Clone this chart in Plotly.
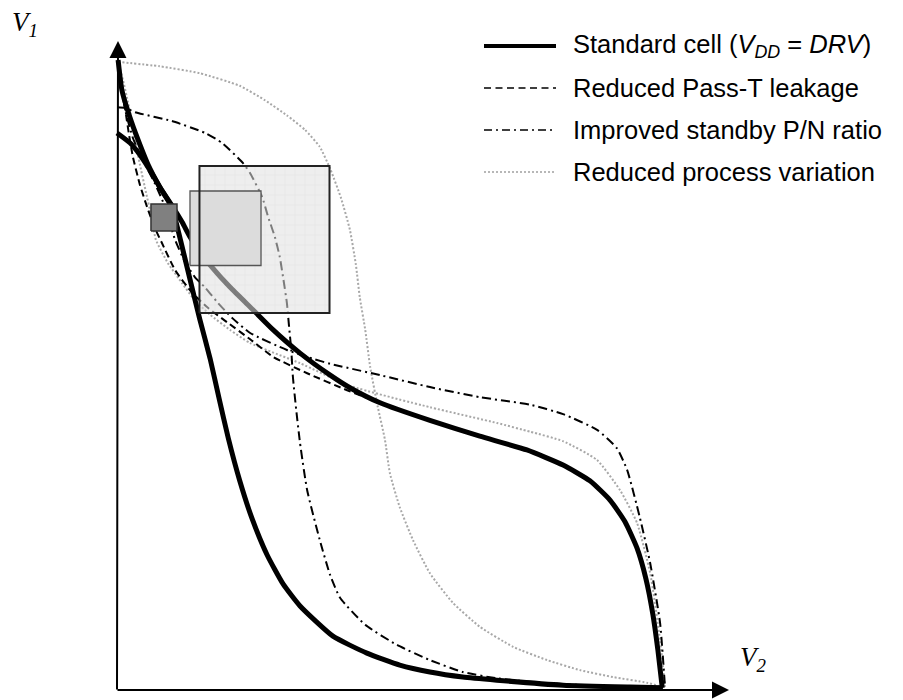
import plotly.graph_objects as go

# ---------------- data (normalised V2, V1) ----------------
std_a_v2 = [0.002, 0.009, 0.027, 0.042, 0.057, 0.078, 0.100, 0.115, 0.133, 0.151, 0.170, 0.186, 0.203,
            0.224, 0.246, 0.274, 0.303, 0.334, 0.394, 0.456, 0.516, 0.571, 0.631, 0.693, 0.814,
            0.936, 0.996]
std_a_v1 = [1.000, 0.952, 0.900, 0.865, 0.833, 0.798, 0.766, 0.717, 0.652, 0.588, 0.525, 0.463, 0.399,
            0.331, 0.272, 0.213, 0.167, 0.132, 0.084, 0.057, 0.038, 0.027, 0.019, 0.014, 0.006,
            0.003, 0.002]

std_b_v2 = [0.000, 0.024, 0.042, 0.060, 0.078, 0.100, 0.119, 0.133, 0.151, 0.170, 0.206, 0.248, 0.285,
            0.334, 0.389, 0.425, 0.480, 0.571, 0.662, 0.748, 0.814, 0.863, 0.900, 0.927, 0.949, 0.965,
            0.978, 0.987, 0.995]
std_b_v1 = [0.884, 0.868, 0.849, 0.825, 0.798, 0.769, 0.742, 0.719, 0.695, 0.674, 0.639, 0.603, 0.571,
            0.534, 0.499, 0.479, 0.455, 0.427, 0.402, 0.380, 0.356, 0.331, 0.300, 0.266, 0.224, 0.176,
            0.118, 0.062, 0.002]

pass_v2 = [0.002, 0.007, 0.015, 0.022, 0.029, 0.042, 0.055, 0.069, 0.082, 0.106, 0.137, 0.166, 0.201,
           0.243, 0.285, 0.347, 0.420, 0.480, 0.571, 0.662, 0.748, 0.814, 0.863, 0.900, 0.927, 0.949,
           0.965, 0.978, 0.987, 0.995]
pass_v1 = [1.000, 0.965, 0.921, 0.881, 0.846, 0.801, 0.766, 0.733, 0.709, 0.666, 0.630, 0.606, 0.583,
           0.556, 0.528, 0.502, 0.475, 0.455, 0.427, 0.402, 0.380, 0.356, 0.331, 0.300, 0.266, 0.224,
           0.176, 0.118, 0.062, 0.002]

pn1_v2 = [0.000, 0.015, 0.033, 0.100, 0.161, 0.192, 0.230, 0.243, 0.265, 0.276, 0.288, 0.297, 0.303,
          0.310, 0.314, 0.318, 0.321, 0.327, 0.334, 0.347, 0.370, 0.389, 0.407, 0.453, 0.511, 0.571,
          0.631, 0.693, 0.772, 0.881, 0.996]
pn1_v1 = [0.925, 0.924, 0.917, 0.903, 0.884, 0.868, 0.836, 0.820, 0.782, 0.750, 0.719, 0.687, 0.655,
          0.614, 0.576, 0.539, 0.496, 0.444, 0.391, 0.316, 0.237, 0.181, 0.145, 0.102, 0.070, 0.046,
          0.027, 0.017, 0.010, 0.005, 0.002]

pn2_v2 = [0.002, 0.007, 0.016, 0.029, 0.047, 0.069, 0.088, 0.106, 0.124, 0.142, 0.161, 0.184, 0.210,
          0.243, 0.310, 0.358, 0.389, 0.480, 0.571, 0.662, 0.754, 0.814, 0.876, 0.912, 0.931, 0.954,
          0.973, 0.991, 1.000]
pn2_v1 = [0.997, 0.960, 0.917, 0.876, 0.841, 0.804, 0.766, 0.714, 0.679, 0.655, 0.638, 0.614, 0.590,
          0.566, 0.539, 0.525, 0.517, 0.499, 0.480, 0.464, 0.452, 0.437, 0.412, 0.383, 0.348, 0.273,
          0.200, 0.105, 0.003]

pv1_v2 = [0.002, 0.078, 0.151, 0.224, 0.270, 0.310, 0.343, 0.370, 0.390, 0.409, 0.425, 0.436, 0.443,
          0.453, 0.462, 0.476, 0.489, 0.498, 0.516, 0.540, 0.571, 0.613, 0.662, 0.723, 0.785, 0.845,
          0.905, 0.967, 1.000]
pv1_v1 = [0.997, 0.990, 0.979, 0.959, 0.936, 0.912, 0.889, 0.862, 0.825, 0.780, 0.730, 0.674, 0.623,
          0.571, 0.512, 0.448, 0.396, 0.343, 0.289, 0.237, 0.184, 0.137, 0.099, 0.067, 0.046, 0.030,
          0.019, 0.010, 0.002]

pv2_v2 = [0.002, 0.011, 0.018, 0.026, 0.033, 0.042, 0.053, 0.062, 0.071, 0.093, 0.119, 0.142, 0.170,
          0.206, 0.243, 0.334, 0.425, 0.571, 0.693, 0.754, 0.814, 0.876, 0.918, 0.949, 0.973, 0.991, 1.000]
pv2_v1 = [0.997, 0.968, 0.941, 0.908, 0.873, 0.833, 0.789, 0.754, 0.714, 0.677, 0.645, 0.618, 0.595,
          0.571, 0.550, 0.518, 0.482, 0.448, 0.423, 0.409, 0.394, 0.364, 0.316, 0.264, 0.184, 0.078, 0.003]

# static-noise-margin squares: [V2 min, V2 max, V1 min, V1 max]
snm_small = [0.0620, 0.1095, 0.7281, 0.7711]
snm_medium = [0.1332, 0.2628, 0.6733, 0.7917]
snm_large = [0.1505, 0.3878, 0.5978, 0.8315]

legend_labels = ["Standard cell (<i>V</i><sub><i>DD</i></sub> = <i>DRV</i>)",
                 "Reduced Pass-T leakage",
                 "Improved standby P/N ratio",
                 "Reduced process variation"]

# ---------------- styles ----------------
W, H = 903, 700
X0_PX, X1_PX = 117, 665
Y0_PX, Y1_PX = 689, 60
sx = (X1_PX - X0_PX)
sy = (Y0_PX - Y1_PX)
xr = [(0 - X0_PX) / sx, (W - X0_PX) / sx]
yr = [(Y0_PX - H) / sy, (Y0_PX - 0) / sy]

def px2x(p):
    return (p - X0_PX) / sx

def py2y(p):
    return (Y0_PX - p) / sy

THICK = dict(color="black", width=5)
DASH = dict(color="black", width=2, dash="7px,4px")
DASHDOT = dict(color="black", width=2, dash="9px,4px,2px,4px")
DOT = dict(color="#a8a8a8", width=2, dash="2px,2px")

fig = go.Figure()

def curve(x, y, line):
    fig.add_trace(go.Scatter(x=x, y=y, mode="lines", line=dict(shape="spline", smoothing=0.5, **line),
                             hoverinfo="skip", showlegend=False))

curve(pv1_v2, pv1_v1, DOT)
curve(pv2_v2, pv2_v1, DOT)
curve(pn1_v2, pn1_v1, DASHDOT)
curve(pn2_v2, pn2_v1, DASHDOT)
curve(pass_v2, pass_v1, DASH)
curve(std_a_v2, std_a_v1, THICK)
curve(std_b_v2, std_b_v1, THICK)

def box_xy(b):
    return [b[0], b[1], b[1], b[0], b[0]], [b[2], b[2], b[3], b[3], b[2]]

# large square: translucent gridded fill
bx, by = box_xy(snm_large)
fig.add_trace(go.Scatter(x=bx, y=by, mode="lines", fill="toself", line=dict(width=0),
                         fillcolor="#e0e0e0",
                         fillpattern=dict(shape="+", size=10, solidity=0.08, fgcolor="#cacaca",
                                          bgcolor="#e0e0e0", fillmode="replace"),
                         opacity=0.56, hoverinfo="skip", showlegend=False))
# medium square
mx, my = box_xy(snm_medium)
fig.add_trace(go.Scatter(x=mx, y=my, mode="lines", fill="toself", fillcolor="#dcdcdc",
                         line=dict(color="#555555", width=1.3), hoverinfo="skip", showlegend=False))
# large square outline
fig.add_trace(go.Scatter(x=bx, y=by, mode="lines", line=dict(color="#222222", width=2),
                         hoverinfo="skip", showlegend=False))
# small square
sxs, sys_ = box_xy(snm_small)
fig.add_trace(go.Scatter(x=sxs, y=sys_, mode="lines", fill="toself", fillcolor="#808080",
                         line=dict(color="#333333", width=1.5), hoverinfo="skip", showlegend=False))

annotations = []
# axes with arrows
annotations.append(dict(x=px2x(118), y=py2y(41), ax=px2x(117), ay=py2y(691), xref="x", yref="y",
                        axref="x", ayref="y", text="", showarrow=True, arrowhead=2, arrowsize=1.7,
                        arrowwidth=2, arrowcolor="black"))
annotations.append(dict(x=px2x(729), y=py2y(690), ax=px2x(116), ay=py2y(690), xref="x", yref="y",
                        axref="x", ayref="y", text="", showarrow=True, arrowhead=2, arrowsize=1.7,
                        arrowwidth=2, arrowcolor="black"))
serif = dict(family="Liberation Serif, Times New Roman, serif", size=27, color="black")
annotations.append(dict(x=10 / W, y=1 - 24 / H, xref="paper", yref="paper", text="<i>V<sub>1</sub></i>",
                        showarrow=False, font=serif, xanchor="left", yanchor="middle"))
annotations.append(dict(x=738 / W, y=1 - 659 / H, xref="paper", yref="paper", text="<i>V<sub>2</sub></i>",
                        showarrow=False, font=serif, xanchor="left", yanchor="middle"))

# legend (drawn manually)
leg_rows_px = [46, 88, 130, 172]
leg_styles = [dict(color="black", width=4), dict(color="black", width=1.5, dash="7px,4.5px"),
              dict(color="black", width=1.5, dash="8px,4px,2px,4px"),
              dict(color="#a0a0a0", width=1.5, dash="2px,2px")]
shapes = []
for ypx, st, lab in zip(leg_rows_px, leg_styles, legend_labels):
    shapes.append(dict(type="line", xref="paper", yref="paper", x0=484 / W, x1=556 / W,
                       y0=1 - ypx / H, y1=1 - ypx / H, line=st))
    annotations.append(dict(x=571 / W, y=1 - ypx / H, xref="paper", yref="paper", text=lab,
                            showarrow=False, xanchor="left", yanchor="middle",
                            font=dict(family="Liberation Sans, Arial, sans-serif", size=25.5,
                                      color="black")))

fig.update_layout(
    width=W, height=H, margin=dict(l=0, r=0, t=0, b=0),
    paper_bgcolor="white", plot_bgcolor="white",
    xaxis=dict(range=xr, visible=False, fixedrange=True),
    yaxis=dict(range=yr, visible=False, fixedrange=True),
    showlegend=False, annotations=annotations, shapes=shapes,
)

fig.write_html("out.html")
